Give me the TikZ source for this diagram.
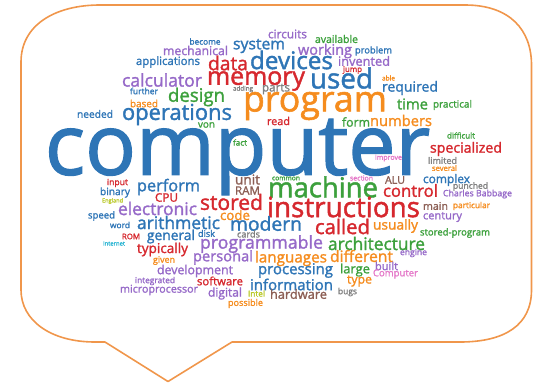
\documentclass[tikz,border=0pt]{standalone}
\usepackage{fontspec}
\setmainfont{Open Sans}
\newfontfamily\wfont{Open Sans}[FakeBold=1.6]
\usepackage{graphicx}
\definecolor{cblue}{RGB}{46,117,182}
\definecolor{cred}{RGB}{214,40,46}
\definecolor{corange}{RGB}{245,140,30}
\definecolor{cgreen}{RGB}{60,160,60}
\definecolor{cpurple}{RGB}{150,105,200}
\definecolor{cbrown}{RGB}{140,95,85}
\definecolor{cgrey}{RGB}{128,128,128}
\definecolor{cpink}{RGB}{228,120,200}
\definecolor{cyel}{RGB}{185,200,40}
\definecolor{ccyan}{RGB}{40,180,210}
\definecolor{bubble}{RGB}{240,150,75}
\newcounter{wc}
\newcommand\cw[5]{\stepcounter{wc}\node[word,text=#4] (w\arabic{wc}) at (#1,#2) {\resizebox{#3pt}{!}{\wfont #5}};}
\tikzset{word/.style={inner sep=0pt,outer sep=0pt}}
\begin{document}
\begin{tikzpicture}[x=1pt,y=-1pt]
\useasboundingbox (0,0) rectangle (533,383);
\draw[bubble,line width=1.6pt,line join=round]
 (21,62) .. controls (21,25) and (55,5) .. (100,5)
 -- (465,5) .. controls (510,5) and (531.5,30) .. (531.5,65)
 -- (531.5,290) .. controls (531.5,325) and (505,342) .. (460,342)
 -- (232,342) -- (168,381.5) -- (105,342) -- (95,342)
 .. controls (50,342) and (21,320) .. (21,290) -- cycle;
\cw{237.5}{157}{385}{cblue}{computer}
\cw{315}{106}{144}{corange}{program}
\cw{287.5}{34}{39}{cpurple}{circuits}
\cw{205}{41.5}{31}{cblue}{become}
\cw{195.5}{50.5}{65}{cpurple}{mechanical}
\cw{259}{46}{52}{cblue}{system}
\cw{168}{62}{64}{cblue}{applications}
\cw{228}{63}{40}{cred}{data}
\cw{291.5}{60}{83}{cblue}{devices}
\cw{162}{80}{80}{cpurple}{calculator}
\cw{256}{81}{98}{cred}{memory}
\cw{144}{91}{28}{cblue}{further}
\cw{196.5}{97}{57}{cgreen}{design}
\cw{243}{89}{20}{cgrey}{adding}
\cw{276}{89}{28}{cgrey}{parts}
\cw{144}{103.5}{28}{corange}{based}
\cw{336.5}{39}{43}{cgreen}{available}
\cw{325}{51}{54}{cpurple}{working}
\cw{373.5}{51}{37}{cblue}{problem}
\cw{364}{61}{52}{cpurple}{invented}
\cw{352.5}{70}{19}{cred}{jump}
\cw{341.5}{78}{63}{cblue}{used}
\cw{388.5}{78}{13}{corange}{able}
\cw{410}{88}{56}{cblue}{required}
\cw{412.5}{104}{31}{cgreen}{time}
\cw{452.5}{105}{39}{cgreen}{practical}
\cw{95}{114}{36}{cblue}{needed}
\cw{177}{114.5}{110}{cblue}{operations}
\cw{206.5}{125}{17}{cgreen}{von}
\cw{278.5}{121}{23}{cred}{read}
\cw{240}{142.5}{14}{cgreen}{fact}
\cw{117.5}{183}{21}{cred}{input}
\cw{115}{192.5}{30}{cblue}{binary}
\cw{168.5}{187}{63}{cblue}{perform}
\cw{247.5}{179.5}{25}{cbrown}{unit}
\cw{247.5}{190.5}{25}{cbrown}{RAM}
\cw{286}{178.5}{28}{cgreen}{common}
\cw{323}{187}{110}{cgreen}{machine}
\cw{166.5}{197.5}{23}{cred}{CPU}
\cw{231.5}{202}{63}{cred}{stored}
\cw{343.5}{207}{153}{cred}{instructions}
\cw{112.5}{201}{21}{cyel}{England}
\cw{157.5}{208.5}{79}{cpurple}{electronic}
\cw{101.5}{216}{27}{cblue}{speed}
\cw{235}{215}{30}{corange}{code}
\cw{120}{225}{20}{cblue}{word}
\cw{178.5}{222.5}{83}{cblue}{arithmetic}
\cw{266}{223.5}{72}{cblue}{modern}
\cw{342.5}{226.5}{55}{cred}{called}
\cw{395.5}{226}{45}{corange}{usually}
\cw{435.5}{206}{25}{cbrown}{main}
\cw{471.5}{206}{37}{corange}{particular}
\cw{442.5}{217}{39}{cpurple}{century}
\cw{455}{233}{70}{cgreen}{stored-program}
\cw{131}{236.5}{18}{cred}{ROM}
\cw{171}{236.5}{48}{cblue}{general}
\cw{206.5}{233.5}{17}{cblue}{disk}
\cw{248.5}{234}{23}{cgrey}{cards}
\cw{261.5}{244}{123}{cpurple}{programmable}
\cw{376.5}{243.5}{97}{cgreen}{architecture}
\cw{114}{243.5}{22}{ccyan}{Internet}
\cw{162.5}{249.5}{51}{cred}{typically}
\cw{164}{260.5}{22}{corange}{given}
\cw{223}{257.5}{60}{cpurple}{personal}
\cw{291}{258.5}{72}{corange}{languages}
\cw{361.5}{256}{63}{corange}{different}
\cw{413.5}{253}{27}{cpurple}{engine}
\cw{195}{271}{76}{cpurple}{development}
\cw{295.5}{270.5}{75}{cblue}{processing}
\cw{355}{270}{30}{cgreen}{large}
\cw{386.5}{266}{23}{cpurple}{built}
\cw{395.5}{274}{45}{cpink}{Computer}
\cw{155}{281}{40}{cpurple}{integrated}
\cw{220}{281}{46}{cred}{software}
\cw{291.5}{284.5}{83}{cblue}{information}
\cw{359.5}{281}{25}{corange}{type}
\cw{159}{290}{78}{cpurple}{microprocessor}
\cw{225}{293.5}{34}{cpurple}{digital}
\cw{256.5}{293.5}{17}{cyel}{Intel}
\cw{298.5}{294}{57}{cbrown}{hardware}
\cw{347.5}{292}{19}{cgrey}{bugs}
\cw{245.5}{303.5}{35}{corange}{possible}
\cw{356}{122}{28}{cgreen}{form}
\cw{401}{120.5}{62}{corange}{numbers}
\cw{461}{135.5}{28}{cgreen}{difficult}
\cw{466}{149}{72}{cred}{specialized}
\cw{388.5}{158}{27}{cpink}{improve}
\cw{442.5}{160.5}{29}{cgrey}{limited}
\cw{444.5}{168}{25}{corange}{several}
\cw{361.5}{178}{23}{cpink}{section}
\cw{395}{180}{20}{cbrown}{ALU}
\cw{446.5}{180}{47}{cblue}{complex}
\cw{410.5}{190.5}{55}{cred}{control}
\cw{470.5}{186.5}{35}{cgrey}{punched}
\cw{477.5}{194}{69}{cpurple}{Charles Babbage}
\end{tikzpicture}
\end{document}
